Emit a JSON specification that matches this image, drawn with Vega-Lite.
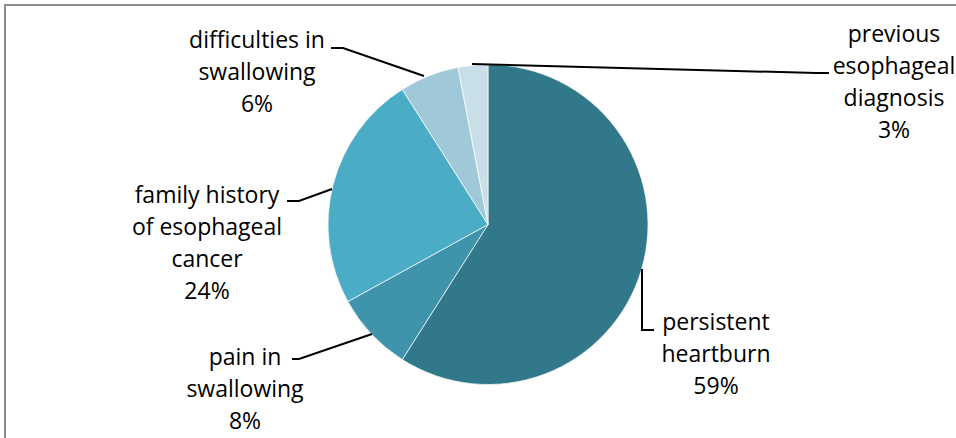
{
  "$schema": "https://vega.github.io/schema/vega-lite/v6.json",
  "width": 956,
  "height": 438,
  "autosize": "none",
  "padding": 0,
  "background": "white",
  "config": {"view": {"stroke": null}},
  "datasets": {
    "slices": [
      {"k": "persistent heartburn", "v": 59, "o": 1},
      {"k": "pain in swallowing", "v": 8, "o": 2},
      {"k": "family history of esophageal cancer", "v": 24, "o": 3},
      {"k": "difficulties in swallowing", "v": 6, "o": 4},
      {"k": "previous esophageal diagnosis", "v": 3, "o": 5}
    ],
    "frame": [
      {"g": "frame", "i": 0, "px": 5, "py": 445},
      {"g": "frame", "i": 1, "px": 5, "py": 5},
      {"g": "frame", "i": 2, "px": 965, "py": 5}
    ],
    "leaders": [
      {"g": "difficulties", "i": 0, "px": 331, "py": 48},
      {"g": "difficulties", "i": 1, "px": 343, "py": 48},
      {"g": "difficulties", "i": 2, "px": 424, "py": 76},
      {"g": "previous", "i": 0, "px": 472, "py": 64},
      {"g": "previous", "i": 1, "px": 816, "py": 73},
      {"g": "previous", "i": 2, "px": 829, "py": 73},
      {"g": "family", "i": 0, "px": 287, "py": 201},
      {"g": "family", "i": 1, "px": 299, "py": 201},
      {"g": "family", "i": 2, "px": 332, "py": 189},
      {"g": "pain", "i": 0, "px": 292, "py": 359},
      {"g": "pain", "i": 1, "px": 299, "py": 359},
      {"g": "pain", "i": 2, "px": 372, "py": 334},
      {"g": "heartburn", "i": 0, "px": 642, "py": 269},
      {"g": "heartburn", "i": 1, "px": 642, "py": 330},
      {"g": "heartburn", "i": 2, "px": 654, "py": 330}
    ],
    "labels": [
      {"t": "difficulties in\nswallowing\n6%", "px": 257, "py": 48},
      {"t": "previous\nesophageal\ndiagnosis\n3%", "px": 894, "py": 42},
      {"t": "family history\nof esophageal\ncancer\n24%", "px": 207, "py": 203},
      {"t": "pain in\nswallowing\n8%", "px": 245, "py": 365},
      {"t": "persistent\nheartburn\n59%", "px": 716, "py": 330}
    ]
  },
  "layer": [
    {
      "data": {"name": "frame"},
      "mark": {"type": "line", "color": "#8a8a8a", "strokeWidth": 2, "clip": false},
      "encoding": {
        "x": {"field": "px", "type": "quantitative", "scale": {"domain": [0, 956], "nice": false, "zero": false}, "axis": null},
        "y": {"field": "py", "type": "quantitative", "scale": {"domain": [0, 438], "nice": false, "zero": false, "reverse": true}, "axis": null},
        "detail": {"field": "g"},
        "order": {"field": "i"}
      }
    },
    {
      "data": {"name": "slices"},
      "mark": {"type": "arc", "outerRadius": 160, "stroke": "white", "strokeWidth": 0.7},
      "encoding": {
        "x": {"datum": 488, "type": "quantitative"},
        "y": {"datum": 224.5, "type": "quantitative"},
        "theta": {"field": "v", "type": "quantitative", "stack": true},
        "order": {"field": "o", "sort": "ascending"},
        "color": {
          "field": "k", "type": "nominal", "legend": null,
          "scale": {
            "domain": ["persistent heartburn", "pain in swallowing", "family history of esophageal cancer", "difficulties in swallowing", "previous esophageal diagnosis"],
            "range": ["#31788a", "#3f93aa", "#4bacc6", "#9fc9d9", "#c9dfe8"]
          }
        }
      }
    },
    {
      "data": {"name": "leaders"},
      "mark": {"type": "line", "color": "black", "strokeWidth": 2},
      "encoding": {
        "x": {"field": "px", "type": "quantitative"},
        "y": {"field": "py", "type": "quantitative"},
        "detail": {"field": "g"},
        "order": {"field": "i"}
      }
    },
    {
      "data": {"name": "labels"},
      "mark": {"type": "text", "font": "Open Sans", "fontSize": 23, "lineBreak": "\n", "lineHeight": 32, "align": "center", "baseline": "alphabetic", "color": "black"},
      "encoding": {
        "x": {"field": "px", "type": "quantitative"},
        "y": {"field": "py", "type": "quantitative"},
        "text": {"field": "t"}
      }
    }
  ]
}
